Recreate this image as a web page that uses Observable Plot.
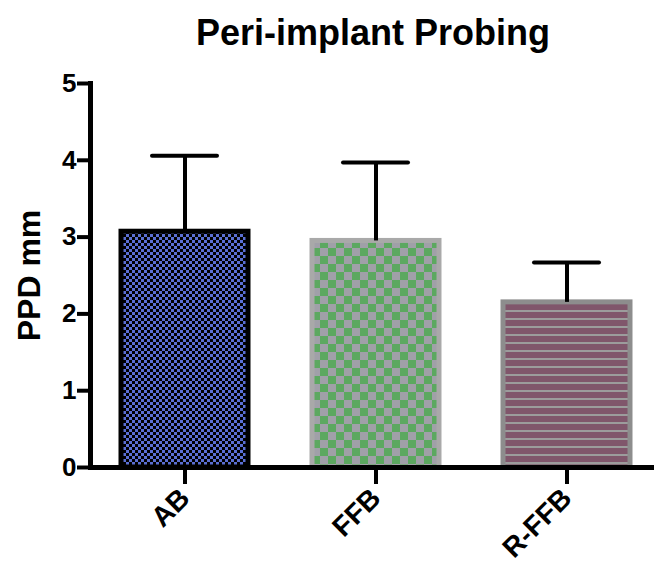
<!DOCTYPE html>
<html>
<head>
<meta charset="utf-8">
<script src="https://cdn.jsdelivr.net/npm/d3@7"></script>
<script src="https://cdn.jsdelivr.net/npm/@observablehq/plot@0.6"></script>
<style>
  html, body { margin: 0; padding: 0; background: #fff; overflow: hidden; }
  #wrap { position: relative; width: 654px; height: 564px; font-family: "Liberation Sans", Arial, sans-serif; }
  #title { position: absolute; left: 0; top: 13px; width: 654px; padding-left: 92px; box-sizing: border-box;
           text-align: center; font-weight: bold; font-size: 36px; line-height: 40px; color: #000; }
  #chart { position: absolute; left: 0; top: 0; }
</style>
</head>
<body>
<div id="wrap">
  <div id="chart"></div>
  <div id="title">Peri-implant Probing</div>
</div>
<script>
// Data
const categories = ["AB", "FFB", "R-FFB"];
const means = [3.07, 2.95, 2.15];
const sds = [0.99, 1.02, 0.52];
const yTicks = [0, 1, 2, 3, 4, 5];
const yLabel = "PPD mm";

// Styles (not data)
const borderColors = ["#000000", "#a9a9a9", "#8d8d8d"];

const rows = categories.map((c, i) => ({cat: c, mean: means[i], sd: sds[i]}));

const font = "Liberation Sans, Arial, sans-serif";

const chart = Plot.plot({
  width: 654,
  height: 564,
  marginTop: 83,
  marginBottom: 97,
  marginLeft: 90,
  marginRight: 0,
  style: {fontFamily: font, color: "#000", background: "transparent"},
  x: {domain: categories, range: [90, 660.4], paddingInner: 0.333, paddingOuter: 0.154, axis: null},
  y: {domain: [0, 5], axis: null},
  marks: [
    ...rows.map((r, i) => Plot.barY([r], {
      x: "cat", y: "mean",
      fill: `url(#pat${i})`, stroke: borderColors[i], strokeWidth: 5
    })),
    Plot.ruleX(rows, {x: "cat", y1: "mean", y2: d => d.mean + d.sd, stroke: "#000", strokeWidth: 4}),
    Plot.tickY(rows, {x: "cat", y: d => d.mean + d.sd, stroke: "#000", strokeWidth: 4, inset: 31, strokeLinecap: "round"}),
    Plot.frame({anchor: "left", stroke: "#000", strokeWidth: 5}),
    Plot.ruleY([0], {stroke: "#000", strokeWidth: 5}),
    Plot.axisY({ticks: yTicks, tickSize: 13, tickPadding: 1, fontSize: 26, fontWeight: "bold",
                strokeWidth: 4, label: null, tickFormat: d => String(d)}),
    Plot.axisX({tickSize: 17, tickRotate: -45, tickPadding: 9, fontSize: 28, fontWeight: "bold",
                strokeWidth: 4, label: null}),
    Plot.text([yLabel], {text: d => d, frameAnchor: "left", textAnchor: "middle", rotate: -90, dx: -61,
                         fontSize: 32, fontWeight: "bold", fill: "#000"})
  ]
});

document.getElementById("chart").appendChild(chart);

// Fill patterns
const svg = d3.select(chart);
const defs = svg.insert("defs", ":first-child");
// AB: fine blue/black checkerboard
const p0 = defs.append("pattern").attr("id", "pat0").attr("patternUnits", "userSpaceOnUse")
  .attr("width", 6).attr("height", 6);
p0.append("rect").attr("width", 6).attr("height", 6).attr("fill", "#000");
p0.append("rect").attr("width", 3).attr("height", 3).attr("fill", "#5b6fd3");
p0.append("rect").attr("x", 3).attr("y", 3).attr("width", 3).attr("height", 3).attr("fill", "#5b6fd3");
// FFB: coarse green/grey checkerboard
const p1 = defs.append("pattern").attr("id", "pat1").attr("patternUnits", "userSpaceOnUse")
  .attr("width", 16).attr("height", 16);
p1.append("rect").attr("width", 16).attr("height", 16).attr("fill", "#a0a0a8");
p1.append("rect").attr("width", 8).attr("height", 8).attr("fill", "#5ca860");
p1.append("rect").attr("x", 8).attr("y", 8).attr("width", 8).attr("height", 8).attr("fill", "#5ca860");
// R-FFB: maroon with grey horizontal stripes
const p2 = defs.append("pattern").attr("id", "pat2").attr("patternUnits", "userSpaceOnUse")
  .attr("width", 8).attr("height", 8);
p2.append("rect").attr("width", 8).attr("height", 8).attr("fill", "#80566b");
p2.append("rect").attr("y", 6).attr("width", 8).attr("height", 2).attr("fill", "#9c9c9c");
</script>
</body>
</html>
